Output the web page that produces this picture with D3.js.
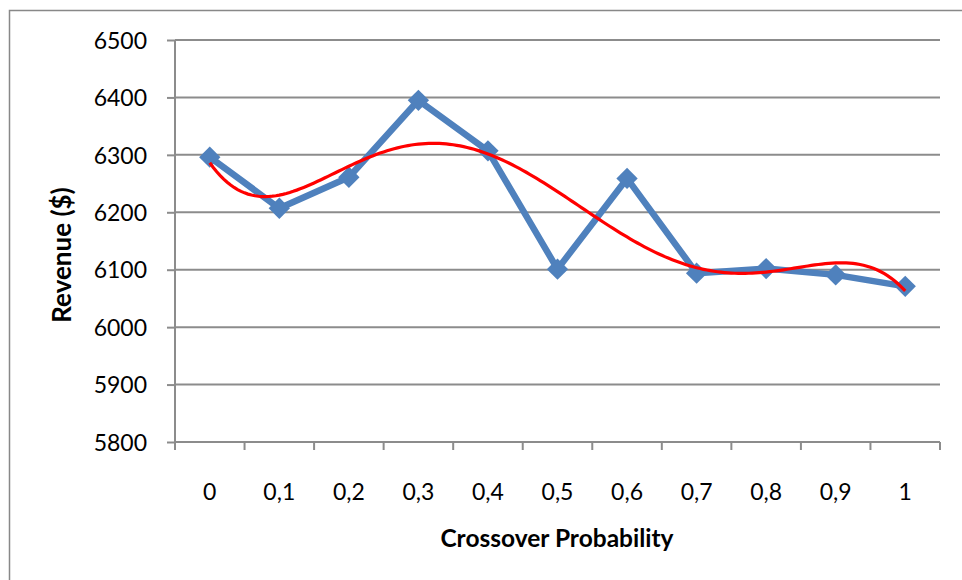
<!DOCTYPE html>
<html>
<head>
<meta charset="utf-8">
<script src="https://cdn.jsdelivr.net/npm/d3@7"></script>
<style>
  body { margin: 0; background: #fff; }
  svg { display: block; }
  .tick text { font-family: Lato, "Open Sans", sans-serif; font-size: 23px; fill: #000; }
  .axis-title { font-family: Lato, "Open Sans", sans-serif; font-weight: bold; fill: #000; }
</style>
</head>
<body>
<div id="chart"></div>
<script>
// categories (crossover probability) and revenue values
var categories = ['0', '0,1', '0,2', '0,3', '0,4', '0,5', '0,6', '0,7', '0,8', '0,9', '1'];
var revenue = [6296, 6207, 6261, 6395, 6307, 6101, 6259, 6094, 6102, 6091, 6071];
var yTicks = [5800, 5900, 6000, 6100, 6200, 6300, 6400, 6500];

var cfg = {
    width: 962,
    height: 580,
    mLeft: 175,
    mRight: 22,
    mTop: 40,
    mBottom: 138,
    trendOrder: 5
};

var width = cfg.width - cfg.mLeft - cfg.mRight,
    height = cfg.height - cfg.mTop - cfg.mBottom;

var svg = d3.select('#chart').append('svg')
    .attr('width', cfg.width)
    .attr('height', cfg.height);

// outer chart border
svg.append('rect')
    .attr('x', 9.5).attr('y', 10.5)
    .attr('width', 970).attr('height', 600)
    .attr('fill', 'none')
    .attr('stroke', '#888')
    .attr('stroke-width', 1.5);

var g = svg.append('g')
    .attr('transform', 'translate(' + cfg.mLeft + ',' + cfg.mTop + ')');

var x = d3.scaleBand().domain(categories).range([0, width]);
var y = d3.scaleLinear().domain([5800, 6500]).range([height, 0]);

// gridlines
g.append('g').selectAll('line')
    .data(yTicks.slice(1))
    .enter().append('line')
    .attr('x1', 0).attr('x2', width)
    .attr('y1', function (d) { return y(d); })
    .attr('y2', function (d) { return y(d); })
    .attr('stroke', '#8c8c8c')
    .attr('stroke-width', 2);

// y axis
var yAxis = d3.axisLeft(y).tickValues(yTicks).tickSize(8).tickPadding(20)
    .tickFormat(d3.format('d'));
g.append('g').call(function (a) {
    a.call(yAxis);
    a.select('.domain').attr('stroke', '#8c8c8c').attr('stroke-width', 2).attr('d', 'M0,0V' + height);
    a.selectAll('.tick line').attr('stroke', '#8c8c8c').attr('stroke-width', 2);
    a.selectAll('.tick text').attr('dy', '0.36em');
});

// x axis: ticks between categories
g.append('g')
    .attr('transform', 'translate(0,' + height + ')')
    .call(function (a) {
        a.append('line').attr('x1', 0).attr('x2', width)
            .attr('stroke', '#8c8c8c').attr('stroke-width', 2);
        a.selectAll('.sep')
            .data(d3.range(categories.length + 1))
            .enter().append('line')
            .attr('x1', function (i) { return i * x.step(); })
            .attr('x2', function (i) { return i * x.step(); })
            .attr('y1', 0).attr('y2', 8)
            .attr('stroke', '#8c8c8c').attr('stroke-width', 2);
        a.selectAll('.lbl')
            .data(categories)
            .enter().append('text')
            .attr('x', function (d) { return x(d) + x.bandwidth() / 2; })
            .attr('y', 58)
            .attr('text-anchor', 'middle')
            .style('font-family', 'Lato, "Open Sans", sans-serif')
            .style('font-size', '23px')
            .text(function (d) { return d; });
    });

// axis titles
svg.append('text')
    .attr('class', 'axis-title')
    .style('font-size', '26px')
    .attr('transform', 'translate(71,255) rotate(-90)')
    .attr('text-anchor', 'middle')
    .text('Revenue ($)');

svg.append('text')
    .attr('class', 'axis-title')
    .style('font-size', '24.5px')
    .attr('x', 557).attr('y', 547)
    .attr('text-anchor', 'middle')
    .text('Crossover Probability');

// polynomial trendline (least squares, like a spreadsheet trendline)
function polyFit(xs, ys, order) {
    var n = order + 1, A = [], i, j, k;
    for (i = 0; i < n; i++) {
        A.push([]);
        for (j = 0; j <= n; j++) A[i].push(0);
    }
    xs.forEach(function (xv, p) {
        for (i = 0; i < n; i++) {
            for (j = 0; j < n; j++) A[i][j] += Math.pow(xv, i + j);
            A[i][n] += ys[p] * Math.pow(xv, i);
        }
    });
    for (i = 0; i < n; i++) {
        var piv = i;
        for (k = i + 1; k < n; k++) if (Math.abs(A[k][i]) > Math.abs(A[piv][i])) piv = k;
        var tmp = A[i]; A[i] = A[piv]; A[piv] = tmp;
        for (k = i + 1; k < n; k++) {
            var f = A[k][i] / A[i][i];
            for (j = i; j <= n; j++) A[k][j] -= f * A[i][j];
        }
    }
    var c = new Array(n).fill(0);
    for (i = n - 1; i >= 0; i--) {
        var s = A[i][n];
        for (j = i + 1; j < n; j++) s -= A[i][j] * c[j];
        c[i] = s / A[i][i];
    }
    return function (t) {
        var v = 0;
        for (var q = 0; q < n; q++) v += c[q] * Math.pow(t, q);
        return v;
    };
}

var mid = (categories.length - 1) / 2;
var ts = revenue.map(function (d, i) { return (i - mid) / mid; });
var trend = polyFit(ts, revenue, cfg.trendOrder);
var trendPts = d3.range(0, categories.length - 1 + 0.001, 0.05);

var px = function (i) { return x(categories[0]) + x.bandwidth() / 2 + i * x.step(); };

// blue series
var line = d3.line()
    .x(function (d, i) { return px(i); })
    .y(function (d) { return y(d); });

g.append('path')
    .datum(revenue)
    .attr('d', line)
    .attr('fill', 'none')
    .attr('stroke', '#4f81bd')
    .attr('stroke-width', 6.5)
    .attr('stroke-linejoin', 'round');

g.selectAll('.dot')
    .data(revenue)
    .enter().append('path')
    .attr('d', d3.symbol().type(d3.symbolDiamond2).size(290))
    .attr('transform', function (d, i) { return 'translate(' + px(i) + ',' + y(d) + ')'; })
    .attr('fill', '#4f81bd');

// red trend line
g.append('path')
    .datum(trendPts)
    .attr('d', d3.line()
        .x(function (i) { return px(i); })
        .y(function (i) { return y(trend((i - mid) / mid)); }))
    .attr('fill', 'none')
    .attr('stroke', '#ff0000')
    .attr('stroke-width', 3.2);
</script>
</body>
</html>
